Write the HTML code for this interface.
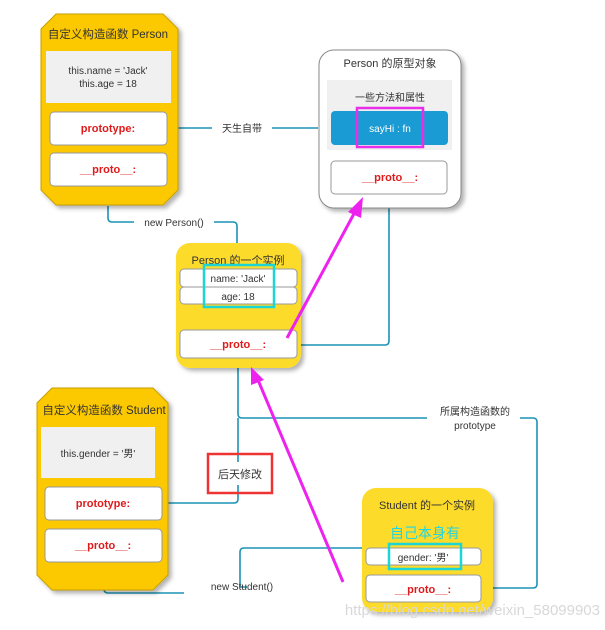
<!DOCTYPE html>
<html><head><meta charset="utf-8"><style>
html,body{margin:0;padding:0;background:#fff;}
svg{display:block;font-family:"Liberation Sans","Noto Sans CJK SC",sans-serif;}
</style></head><body>
<svg width="605" height="630" viewBox="0 0 605 630" xmlns="http://www.w3.org/2000/svg">
<defs>
<filter id="sh" x="-10%" y="-10%" width="130%" height="130%"><feDropShadow dx="3" dy="3" stdDeviation="2" flood-color="#000" flood-opacity="0.3"/></filter>
</defs>
<g fill="none" stroke="#1d93b5" stroke-width="1.6">
<path d="M167 128H212M272 128H318"/>
<path d="M108 206V218Q108 222 112 222H134M214 222H233Q237 222 237 226V245"/>
<path d="M389 208V341Q389 345 385 345H297"/>
<path d="M238 368V414Q238 418 242 418H427M520 418H533Q537 418 537 422V584Q537 588 533 588H481"/>
<path d="M238 418V499Q238 503 234 503H162"/>
<path d="M104 582V589Q104 593 108 593H184M247 587H240V552Q240 548 244 548H365"/>
</g>
<!-- Person constructor -->
<polygon points="56,14 163,14 178,29 178,190 163,205 56,205 41,190 41,29" fill="#fcc800" stroke="#c9a000" filter="url(#sh)"/>
<text x="108" y="38" font-size="11.5" text-anchor="middle" fill="#333">自定义构造函数 Person</text>
<rect x="46" y="51" width="125" height="52" fill="#f0f0f0"/>
<text x="108" y="74" font-size="10" text-anchor="middle" fill="#333">this.name = 'Jack'</text>
<text x="108" y="87" font-size="10" text-anchor="middle" fill="#333">this.age = 18</text>
<rect x="50" y="112" width="117" height="33" rx="4" fill="#fff" stroke="#999"/>
<text x="108" y="132" font-size="11" font-weight="bold" text-anchor="middle" fill="#e01b1b">prototype:</text>
<rect x="50" y="153" width="117" height="33" rx="4" fill="#fff" stroke="#999"/>
<text x="108" y="173" font-size="11" font-weight="bold" text-anchor="middle" fill="#e01b1b">__proto__:</text>
<text x="242" y="132" font-size="10" text-anchor="middle" fill="#333">天生自带</text>
<text x="174" y="226" font-size="10" text-anchor="middle" fill="#333">new Person()</text>
<!-- Prototype object -->
<rect x="319" y="50" width="142" height="158" rx="15" fill="#fff" stroke="#888" filter="url(#sh)"/>
<text x="390" y="67" font-size="11" text-anchor="middle" fill="#333">Person  的原型对象</text>
<rect x="327" y="80" width="125" height="70" fill="#f0f0f0"/>
<text x="390" y="101" font-size="10" text-anchor="middle" fill="#333">一些方法和属性</text>
<rect x="331" y="111" width="117" height="34" rx="4" fill="#1a9bd3"/>
<text x="390" y="132" font-size="10" text-anchor="middle" fill="#fff">sayHi : fn</text>
<rect x="357" y="108" width="66" height="39" fill="none" stroke="#e92ee9" stroke-width="2.5"/>
<rect x="331" y="161" width="116" height="33" rx="4" fill="#fff" stroke="#999"/>
<text x="390" y="181" font-size="11" font-weight="bold" text-anchor="middle" fill="#e01b1b">__proto__:</text>
<!-- Person instance -->
<rect x="176" y="243" width="125" height="125" rx="14" fill="#fddb2a" filter="url(#sh)"/>
<text x="238" y="264" font-size="11" text-anchor="middle" fill="#333">Person 的一个实例</text>
<rect x="180" y="269" width="117" height="18" rx="4" fill="#fff" stroke="#999"/>
<text x="238" y="282" font-size="10" text-anchor="middle" fill="#333">name: 'Jack'</text>
<rect x="180" y="287" width="117" height="17" rx="4" fill="#fff" stroke="#999"/>
<text x="238" y="300" font-size="10" text-anchor="middle" fill="#333">age: 18</text>
<rect x="204" y="265" width="70" height="42" fill="none" stroke="#1bd6d6" stroke-width="2.5"/>
<rect x="180" y="330" width="117" height="28" rx="4" fill="#fff" stroke="#999"/>
<text x="238" y="348" font-size="11" font-weight="bold" text-anchor="middle" fill="#e01b1b">__proto__:</text>
<!-- labels -->
<text x="475" y="415" font-size="10" text-anchor="middle" fill="#333">所属构造函数的</text>
<text x="475" y="429" font-size="10" text-anchor="middle" fill="#333">prototype</text>
<!-- Student constructor -->
<polygon points="52,388 153,388 168,403 168,575 153,590 52,590 37,575 37,403" fill="#fcc800" stroke="#c9a000" filter="url(#sh)"/>
<text x="104" y="414" font-size="11.5" text-anchor="middle" fill="#333">自定义构造函数 Student</text>
<rect x="41" y="427" width="114" height="51" fill="#f0f0f0"/>
<text x="98" y="457" font-size="10" text-anchor="middle" fill="#333">this.gender = '男'</text>
<rect x="45" y="487" width="117" height="33" rx="4" fill="#fff" stroke="#999"/>
<text x="103" y="507" font-size="11" font-weight="bold" text-anchor="middle" fill="#e01b1b">prototype:</text>
<rect x="45" y="529" width="117" height="33" rx="4" fill="#fff" stroke="#999"/>
<text x="103" y="549" font-size="11" font-weight="bold" text-anchor="middle" fill="#e01b1b">__proto__:</text>
<rect x="208" y="454" width="64" height="39" fill="#fff" stroke="#ee3333" stroke-width="2.5"/>
<path d="M238 455V462M238 485V492" stroke="#1d93b5" stroke-width="1.6"/>
<text x="240" y="478" font-size="11" text-anchor="middle" fill="#333">后天修改</text>
<text x="242" y="590" font-size="10" text-anchor="middle" fill="#333">new Student()</text>
<!-- Student instance -->
<rect x="362" y="488" width="131" height="124" rx="14" fill="#fddb2a" filter="url(#sh)"/>
<text x="427" y="509" font-size="11" text-anchor="middle" fill="#333">Student 的一个实例</text>
<text x="425" y="538" font-size="14" text-anchor="middle" fill="#1bd6e6">自己本身有</text>
<rect x="366" y="548" width="115" height="17" rx="4" fill="#fff" stroke="#999"/>
<text x="423" y="561" font-size="10" text-anchor="middle" fill="#333">gender: '男'</text>
<rect x="389" y="544" width="72" height="25" fill="none" stroke="#1bd6d6" stroke-width="2.5"/>
<rect x="366" y="575" width="115" height="27" rx="4" fill="#fff" stroke="#999"/>
<text x="423" y="593" font-size="11" font-weight="bold" text-anchor="middle" fill="#e01b1b">__proto__:</text>
<!-- magenta arrows -->
<g fill="#ee22ee" stroke="#ee22ee">
<line x1="287" y1="338" x2="356" y2="210" stroke-width="3"/>
<polygon points="363,197 348,212 361,218" stroke="none"/>
<line x1="343" y1="582" x2="258" y2="380" stroke-width="3"/>
<polygon points="251,367 251,385 264,380" stroke="none"/>
</g>
<text x="600" y="615" font-size="15" text-anchor="end" fill="#d8d8d8">https://blog.csdn.net/weixin_58099903</text>
</svg>
</body></html>
